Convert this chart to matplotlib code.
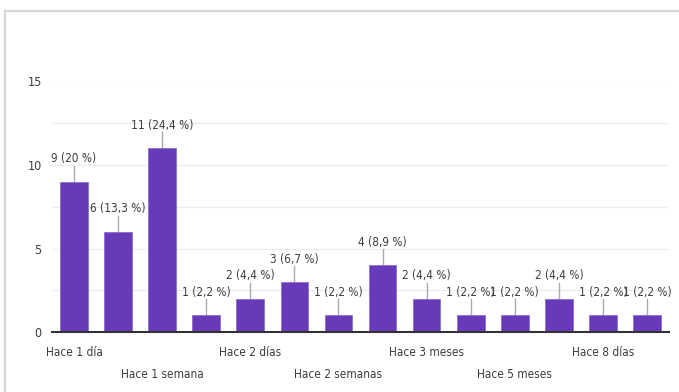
import os
import matplotlib.pyplot as plt
from matplotlib import font_manager as fm
from matplotlib.lines import Line2D

# responses per option
counts = [9, 6, 11, 1, 2, 3, 1, 4, 2, 1, 1, 2, 1, 1]
# only every second category name is printed under the axis
tick_labels = ["Hace 1 día", "", "Hace 1 semana", "", "Hace 2 días", "",
               "Hace 2 semanas", "", "Hace 3 meses", "", "Hace 5 meses", "",
               "Hace 8 días", ""]
y_ticks = [0, 5, 10, 15]

BAR = "#673ab7"
TXT = "#3c3c3c"

# narrow faces, best first; size chosen per face
PREFERRED = [("NotoSans-ExtraCondensed.ttf", 10.5),
             ("NotoSans-Condensed.ttf", 9.5),
             ("LiberationSansNarrow-Regular.ttf", 10),
             ("DejaVuSansCondensed.ttf", 8.5)]
files = {os.path.basename(f.fname): f.fname for f in fm.fontManager.ttflist}
font, FS = fm.FontProperties(family="Roboto"), 9
for name, size in PREFERRED:
    if name in files:
        font, FS = fm.FontProperties(fname=files[name]), size
        break

total = sum(counts)


def fmt_label(v):
    pct = round(v / total * 100, 1)
    s = f"{pct:.1f}".replace(".", ",")
    if s.endswith(",0"):
        s = s[:-2]
    return f"{v} ({s} %)"


fig = plt.figure(figsize=(6.79, 3.92), dpi=100)
ax = fig.add_axes([52 / 679, 1 - 332 / 392, 617 / 679, 250.5 / 392])

x = range(len(counts))
ax.bar(x, counts, width=0.63, color=BAR, edgecolor="#8e6fd0", linewidth=0.6, zorder=3)

# value labels with a short leader line
for i, v in enumerate(counts):
    ax.plot([i, i], [v, v + 0.95], color="#aaaaaa", lw=1, zorder=2)
    ax.text(i, v + 0.98, fmt_label(v), ha="center", va="bottom",
            fontproperties=font, fontsize=FS, color=TXT)

ax.set_xlim(-0.5, len(counts) - 0.5)
ax.set_ylim(0, 15)
ax.set_yticks(y_ticks)
ax.set_yticks([2.5, 7.5, 12.5], minor=True)
ax.grid(axis="y", which="both", color="#ececec", lw=1, zorder=0)
ax.tick_params(axis="y", which="both", length=0, pad=7.5, labelcolor=TXT)
for lab in ax.get_yticklabels():
    lab.set_horizontalalignment("right")
    lab.set_fontproperties(font)
    lab.set_fontsize(FS + 0.5)

ax.set_xticks(list(x))
ax.set_xticklabels([])
ax.tick_params(axis="x", length=0)
for i, lab in enumerate(tick_labels):
    if not lab:
        continue
    off = 0.08 if i % 4 == 0 else 0.168
    ax.text(i, -off * 15, lab, ha="center", va="center", fontproperties=font,
            fontsize=FS, color=TXT, clip_on=False)

for side in ["top", "right", "left"]:
    ax.spines[side].set_visible(False)
ax.spines["bottom"].set_color("#333333")
ax.spines["bottom"].set_linewidth(1.5)
ax.spines["bottom"].set_zorder(4)

# card border
fig.add_artist(Line2D([4.5 / 679, 1], [1 - 10.5 / 392] * 2, color="#d6d6d6", lw=1.6,
                      transform=fig.transFigure))
fig.add_artist(Line2D([4.5 / 679] * 2, [0, 1 - 10.5 / 392], color="#d6d6d6", lw=1.6,
                      transform=fig.transFigure))

fig.savefig("out.png", dpi=100)
